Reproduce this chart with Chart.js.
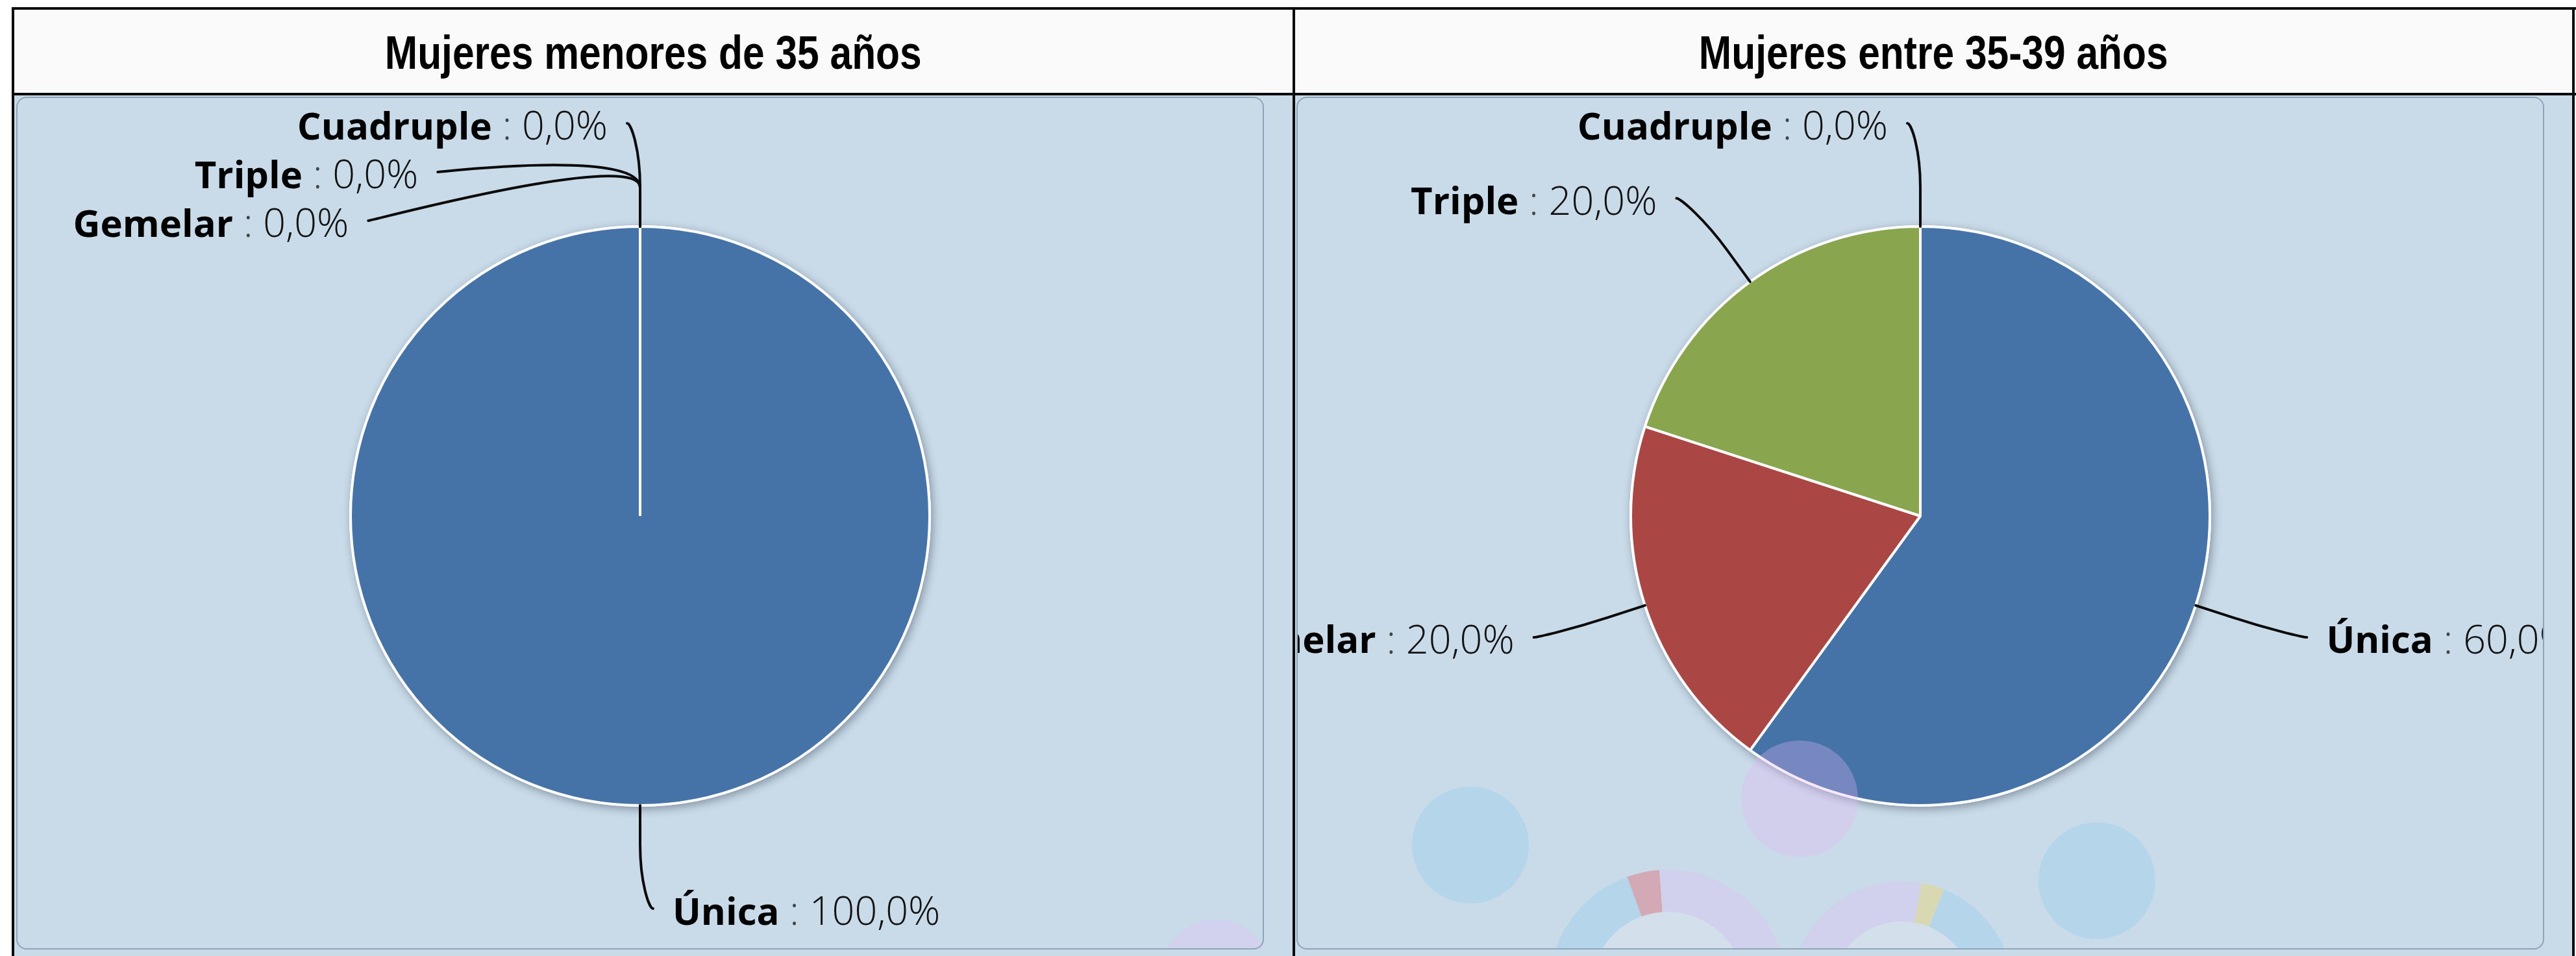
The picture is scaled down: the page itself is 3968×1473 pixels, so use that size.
<!DOCTYPE html>
<html>
<head>
<meta charset="utf-8">
<script src="https://cdn.jsdelivr.net/npm/chart.js@4.4.1/dist/chart.umd.min.js"></script>
<style>
  html, body { margin: 0; padding: 0; background: #ffffff; }
  body { width: 3968px; height: 1473px; position: relative; overflow: hidden; }
  .line { position: absolute; background: #0b0b0b; }
  .hdr { position: absolute; top: 15px; height: 128px; background: #fafafa; display: flex; align-items: center; justify-content: center; }
  .hdr span { display: inline-block; white-space: nowrap; font-family: "Liberation Sans", Arial, sans-serif; font-weight: bold; font-size: 72px; color: #000;
              transform: scaleX(0.84); transform-origin: center center; position: relative; top: 2px; }
  .cell { position: absolute; top: 147px; height: 1326px; background: #c9dae8; }
  .panel { position: absolute; top: 149px; width: 1918px; height: 1310px; border: 2px solid #8ea4b8; border-radius: 16px; pointer-events: none; }
  canvas.pie { position: absolute; top: 149px; }
</style>
</head>
<body>
  <div class="hdr" style="left:22px; width:1969px;"><span id="h0"></span></div>
  <div class="hdr" style="left:1995px; width:1967px;"><span id="h1"></span></div>
  <div class="cell" style="left:22px; width:1969px;"></div>
  <div class="cell" style="left:1995px; width:1967px;"></div>
  <canvas class="pie" id="c0" width="1922" height="1314" style="left:25px;"></canvas>
  <canvas class="pie" id="c1" width="1922" height="1314" style="left:1997px;"></canvas>
  <div class="panel" style="left:25px;"></div>
  <div class="panel" style="left:1997px;"></div>
  <div class="line" style="left:18px; top:11px; width:3950px; height:4px;"></div>
  <div class="line" style="left:18px; top:143px; width:3950px; height:4px;"></div>
  <div class="line" style="left:18px; top:11px; width:4px; height:1462px;"></div>
  <div class="line" style="left:1991px; top:11px; width:4px; height:1462px;"></div>
  <div class="line" style="left:3962px; top:11px; width:4px; height:1462px;"></div>
<script>
// ---- data ----
const categories = ['Única', 'Gemelar', 'Triple', 'Cuadruple'];
const menores35 = [100.0, 0.0, 0.0, 0.0];
const entre35y39 = [60.0, 20.0, 20.0, 0.0];
const panelTitles = ['Mujeres menores de 35 años', 'Mujeres entre 35-39 años'];
const sliceColors = ['#4572A7', '#AA4643', '#89A54E', '#80699B'];

const fmt = v => v.toFixed(1).replace('.', ',') + '%';

// background artwork of the panels (decorative only)
const decorRight = [
  {t: 'circle', x: 268, y: 1153, r: 90, c: '#b5d6ea'},
  {t: 'circle', x: 218, y: 1386, r: 70, c: '#b5d6ea'},
  {t: 'circle', x: 1233, y: 1208, r: 90, c: '#b5d6ea'},
  {t: 'sector', x: 572, y: 1374, r: 183, a0: 180, a1: 340, c: '#b5d6ea'},
  {t: 'sector', x: 572, y: 1374, r: 183, a0: 340, a1: 356, c: '#d4a9b6'},
  {t: 'sector', x: 572, y: 1374, r: 183, a0: 356, a1: 540, c: '#d1d1ed'},
  {t: 'circle', x: 572, y: 1374, r: 118, c: '#d3e0ec'},
  {t: 'sector', x: 933, y: 1381, r: 172, a0: 180, a1: 370, c: '#d1d1ed'},
  {t: 'sector', x: 933, y: 1381, r: 172, a0: 370, a1: 382, c: '#d8d9b3'},
  {t: 'sector', x: 933, y: 1381, r: 172, a0: 382, a1: 540, c: '#b5d6ea'},
  {t: 'circle', x: 933, y: 1381, r: 110, c: '#d3e0ec'},
  {t: 'circle', x: 775, y: 1082, r: 90, c: 'rgba(227,185,245,0.32)'}
];
const decorLeft = [
  {t: 'circle', x: 1848, y: 1353, r: 85, c: '#d2d1ee'}
];

const pieLabels = {
  id: 'pieLabels',
  beforeDatasetsDraw(chart) {
    const arc = chart.getDatasetMeta(0).data[0];
    if (!arc) return;
    const p = arc.getProps(['x', 'y', 'outerRadius'], true);
    const ctx = chart.ctx;
    ctx.save();
    ctx.shadowColor = 'rgba(30,40,60,0.4)';
    ctx.shadowBlur = 14;
    ctx.shadowOffsetX = 3;
    ctx.shadowOffsetY = 4;
    ctx.fillStyle = '#ffffff';
    ctx.beginPath();
    ctx.arc(p.x, p.y, p.outerRadius + 2, 0, Math.PI * 2);
    ctx.fill();
    ctx.restore();
  },
  afterDatasetsDraw(chart, args, opts) {
    const ctx = chart.ctx;
    ctx.save();
    (opts.decor || []).forEach(d => {
      ctx.fillStyle = d.c;
      ctx.beginPath();
      if (d.t === 'circle') {
        ctx.arc(d.x, d.y, d.r, 0, Math.PI * 2);
      } else {
        const a0 = (d.a0 - 90) * Math.PI / 180, a1 = (d.a1 - 90) * Math.PI / 180;
        ctx.moveTo(d.x, d.y);
        ctx.arc(d.x, d.y, d.r, a0, a1);
        ctx.closePath();
      }
      ctx.fill();
    });
    ctx.restore();

    const meta = chart.getDatasetMeta(0);
    const values = chart.data.datasets[0].data;
    const labels = chart.data.labels;
    const items = meta.data.map((arc, i) => {
      const p = arc.getProps(['x', 'y', 'startAngle', 'endAngle', 'outerRadius'], true);
      const mid = (p.startAngle + p.endAngle) / 2;
      const c = Math.cos(mid), s = Math.sin(mid);
      const left = c < -1e-9 || (Math.abs(c) <= 1e-9 && s < 0);
      const R = p.outerRadius + opts.distance;
      return {i, p, c, s, left, R, y: p.y + R * s};
    });
    [true, false].forEach(side => {
      const g = items.filter(it => it.left === side);
      g.sort((a, b) => (a.y - b.y) || (side ? b.i - a.i : a.i - b.i));
      for (let k = 0; k < g.length; k++) {
        const top = g[k].p.y - g[k].R;
        g[k].y = k === 0 ? Math.max(g[k].y, top) : Math.max(g[k].y, g[k - 1].y + opts.spacing);
      }
      for (let k = g.length - 1; k >= 0; k--) {
        const bottom = g[k].p.y + g[k].R;
        g[k].y = k === g.length - 1 ? Math.min(g[k].y, bottom) : Math.min(g[k].y, g[k + 1].y - opts.spacing);
      }
    });

    const nameFont = 'bold 58px "Open Sans", "DejaVu Sans", sans-serif';
    const valFont = '300 61px "Open Sans", "DejaVu Sans", sans-serif';
    items.forEach(it => {
      const p = it.p;
      const dy = it.y - p.y;
      const dx = Math.sqrt(Math.max(0, it.R * it.R - dy * dy));
      const sign = it.left ? -1 : 1;
      const ex = p.x + sign * (dx + opts.connectorPadding);
      const ey = it.y;
      const ax = p.x + it.c * p.outerRadius, ay = p.y + it.s * p.outerRadius;
      const sx = p.x + it.c * (p.outerRadius + opts.connectorOffset);
      const sy = p.y + it.s * (p.outerRadius + opts.connectorOffset);
      ctx.save();
      ctx.strokeStyle = '#0a0a0a';
      ctx.lineWidth = 4;
      ctx.lineJoin = 'round';
      ctx.lineCap = 'round';
      ctx.beginPath();
      ctx.moveTo(ex, ey);
      ctx.bezierCurveTo(ex - sign * 6, ey, 2 * sx - ax, 2 * sy - ay, sx, sy);
      ctx.lineTo(ax, ay);
      ctx.stroke();

      const name = labels[it.i];
      const sep = ' : ';
      const val = fmt(values[it.i]);
      ctx.font = nameFont; const wN = ctx.measureText(name).width;
      ctx.font = valFont; const wS = ctx.measureText(sep).width; const wV = ctx.measureText(val).width;
      const total = wN + wS + wV;
      let tx = it.left ? ex - opts.textGap - total : ex + opts.textGap;
      const ty = ey + 8;
      ctx.textBaseline = 'middle';
      ctx.textAlign = 'left';
      ctx.fillStyle = '#000';
      ctx.font = nameFont; ctx.fillText(name, tx, ty); tx += wN;
      ctx.font = valFont; ctx.fillStyle = '#444'; ctx.fillText(sep, tx, ty); tx += wS;
      ctx.fillStyle = '#111'; ctx.fillText(val, tx, ty);
      ctx.restore();
    });
  }
};

function makePie(id, titleId, title, values, decor) {
  document.getElementById(titleId).textContent = title;
  return new Chart(document.getElementById(id), {
    type: 'pie',
    data: {
      labels: categories,
      datasets: [{
        data: values,
        backgroundColor: sliceColors,
        borderColor: '#ffffff',
        borderWidth: 4,
        radius: 446
      }]
    },
    options: {
      responsive: false,
      animation: false,
      layout: { padding: { top: 0, bottom: 22, left: 0, right: 0 } },
      plugins: {
        legend: { display: false },
        tooltip: { enabled: false },
        title: { display: false },
        pieLabels: { distance: 159, spacing: 75, connectorPadding: 20, connectorOffset: 60, textGap: 30, decor: decor }
      }
    },
    plugins: [pieLabels]
  });
}

makePie('c0', 'h0', panelTitles[0], menores35, decorLeft);
makePie('c1', 'h1', panelTitles[1], entre35y39, decorRight);
</script>
</body>
</html>
